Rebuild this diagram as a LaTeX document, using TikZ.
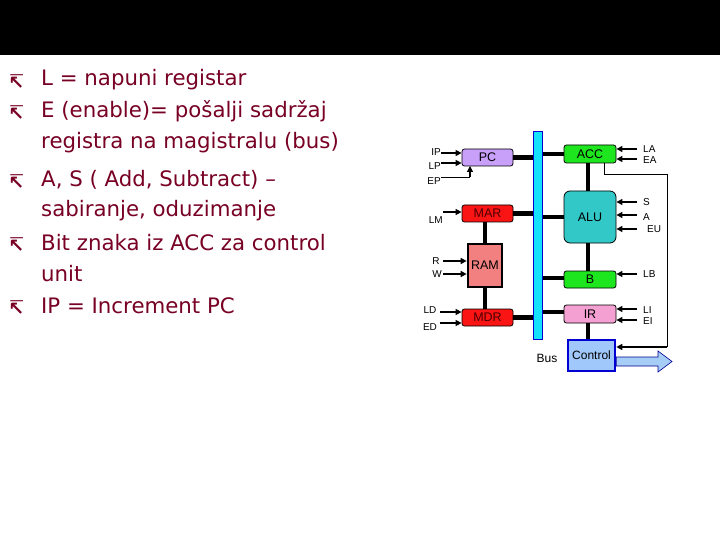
\documentclass[tikz,border=0pt]{standalone}
\usepackage{fontspec}
\setmainfont{DejaVu Sans}
\newfontfamily\arialf{Liberation Sans}
\usetikzlibrary{arrows.meta}
\definecolor{txtred}{RGB}{120,0,36}
\definecolor{pcc}{RGB}{200,160,250}
\definecolor{marc}{RGB}{250,20,20}
\definecolor{ramc}{RGB}{242,128,128}
\definecolor{accc}{RGB}{30,230,30}
\definecolor{aluc}{RGB}{50,200,200}
\definecolor{irc}{RGB}{245,160,210}
\definecolor{ctlc}{RGB}{160,200,250}
\definecolor{busc}{RGB}{20,225,250}
\definecolor{busb}{RGB}{0,0,210}
\definecolor{arrc}{RGB}{165,205,245}
\tikzset{
  reg/.style={draw=black, line width=0.8pt, rounded corners=2.5pt, font=\arialf\fontsize{12.5}{13}\selectfont},
  lab/.style={font=\arialf\fontsize{10}{11}\selectfont, inner sep=0pt},
  thick link/.style={line width=4.5pt},
  inarr/.style={line width=1.6pt, -{Triangle[length=6pt,width=6pt]}},
  bullet/.style={anchor=west, text=txtred, font=\fontsize{21.3}{24}\selectfont, inner sep=0pt},
  bsym/.style={anchor=west, text=txtred, font=\bfseries\fontsize{19}{24}\selectfont, inner sep=0pt}
}
\begin{document}
\begin{tikzpicture}[x=1pt,y=-1pt]
\useasboundingbox (0,0) rectangle (720,540);
\fill[white] (0,0) rectangle (720,540);
\fill[black] (0,0) rectangle (720,55);
% bullet text
\node[bsym] (b1s) at (8,82) {↸};
\node[bullet] (b1) at (41,80) {L = napuni registar};
\node[bsym] (b2s) at (8,113) {↸};
\node[bullet] (b2) at (41,111) {E (enable)= pošalji sadržaj};
\node[bullet] (b2b) at (41,143) {registra na magistralu (bus)};
\node[bsym] (b3s) at (8,182) {↸};
\node[bullet] (b3) at (41,180) {A, S ( Add, Subtract) –};
\node[bullet] (b3b) at (41,211) {sabiranje, oduzimanje};
\node[bsym] (b4s) at (8,245) {↸};
\node[bullet] (b4) at (41,243) {Bit znaka iz ACC za control};
\node[bullet] (b4b) at (41,274) {unit};
\node[bsym] (b5s) at (8,308) {↸};
\node[bullet] (b5) at (41,306) {IP = Increment PC};
% registers
\node[reg, fill=pcc, minimum width=51pt, minimum height=17pt] (pc) at (487.5,157.5) {PC};
\node[reg, fill=marc, text=black!70!red, minimum width=51pt, minimum height=17pt] (mar) at (487.5,213.5) {MAR};
\node[draw=black, line width=2.2pt, fill=ramc, minimum width=34pt, minimum height=43pt, font=\arialf\fontsize{12.5}{13}\selectfont] (ram) at (485,265.5) {RAM};
\node[reg, fill=marc, text=black!70!red, minimum width=51pt, minimum height=17pt] (mdr) at (487.5,317.5) {MDR};
\node[reg, fill=accc, minimum width=52pt, minimum height=18pt] (acc) at (590,154) {ACC};
\node[reg, fill=aluc, rounded corners=6pt, minimum width=52pt, minimum height=52pt] (alu) at (590,217) {ALU};
\node[reg, fill=accc, minimum width=52pt, minimum height=17pt] (b) at (590,279.5) {B};
\node[reg, fill=irc, minimum width=52pt, minimum height=18pt] (ir) at (590,314) {IR};
\node[draw=busb, line width=2.6pt, fill=ctlc, minimum width=47pt, minimum height=31pt, font=\arialf\fontsize{12}{13}\selectfont, inner sep=1pt] (ctl) at (591.5,355.5) {Control};
% bus
\node[draw=busb, line width=1.8pt, fill=busc, minimum width=9pt, minimum height=208pt, inner sep=0pt] (bus) at (538,235.5) {};
\node[lab, font=\arialf\fontsize{12}{13}\selectfont] (buslab) at (547,358) {Bus};
% thick links
\draw[thick link] (pc.east) -- (pc.east -| bus.west);
\draw[thick link] (acc.west) -- (acc.west -| bus.east);
\draw[thick link] (mar.east) -- (mar.east -| bus.west);
\draw[thick link] (mdr.east) -- (mdr.east -| bus.west);
\draw[thick link] (alu.west) -- (alu.west -| bus.east);
\draw[thick link] ([yshift=1.5pt]b.west) -- ([yshift=1.5pt]b.west -| bus.east);
\draw[thick link] ([yshift=2pt]ir.west) -- ([yshift=2pt]ir.west -| bus.east);
\draw[thick link] (mar.south -| ram.north) -- (ram.north);
\draw[thick link] (ram.south) -- (mdr.north -| ram.south);
\draw[thick link] (acc.south -| 588,0) -- (alu.north -| 588,0);
\draw[thick link] (alu.south -| 588,0) -- (b.north -| 588,0);
\draw[thick link] (ir.south -| 588,0) -- (ctl.north -| 588,0);
% left control inputs
\coordinate (ipS) at (441,153);
\coordinate (lpS) at (441,163);
\node[lab, anchor=east] (ip) at (441,152) {IP};
\node[lab, anchor=east] (lp) at (441,166) {LP};
\node[lab, anchor=east] (ep) at (441,181) {EP};
\draw[inarr] (ipS) -- (ipS -| pc.west);
\draw[inarr] (lpS) -- (lpS -| pc.west);
\draw[line width=0.8pt] (441,177) -- (470,177);
\draw[line width=1.2pt, -{Triangle[length=6pt,width=6pt]}] (470,177) -- (470,166);
\node[lab, anchor=east] (lm) at (443,220) {LM};
\draw[inarr] (443,212) -- (mar.west |- 0,212);
\node[lab] (r) at (436,261) {R};
\node[lab] (w) at (437,274) {W};
\draw[inarr] (443,261) -- (ram.west |- 0,261);
\draw[inarr] (443,274) -- (ram.west |- 0,274);
\node[lab] (ld) at (430,310) {LD};
\node[lab] (ed) at (430,327) {ED};
\draw[inarr] (440,312) -- (mdr.west |- 0,312);
\draw[inarr] (440,323) -- (mdr.west |- 0,323);
% right control inputs
\node[lab, anchor=west] (la) at (643,149) {LA};
\node[lab, anchor=west] (ea) at (643,160) {EA};
\draw[inarr] (637,149) -- (acc.east |- 0,149);
\draw[inarr] (637,159) -- (acc.east |- 0,159);
\node[lab, anchor=west] (s) at (643,202) {S};
\node[lab, anchor=west] (a) at (643,217) {A};
\node[lab, anchor=west] (eu) at (647,229) {EU};
\draw[inarr] (637,202) -- (alu.east |- 0,202);
\draw[inarr] (637,215) -- (alu.east |- 0,215);
\draw[inarr] (637,229) -- (alu.east |- 0,229);
\node[lab, anchor=west] (lb) at (643,274) {LB};
\draw[inarr] (637,274) -- (b.east |- 0,274);
\node[lab, anchor=west] (li) at (643,310) {LI};
\node[lab, anchor=west] (ei) at (643,321) {EI};
\draw[inarr] (637,309) -- (ir.east |- 0,309);
\draw[inarr] (637,320) -- (ir.east |- 0,320);
% sign bit to control
\draw[line width=0.8pt] (604,163) -- (604,174) -- (667,174) -- (667,347);
\draw[line width=1.6pt, -{Triangle[length=6pt,width=6pt]}] (667,347) -- (ctl.east |- 0,347);
% big output arrow
\draw[draw=busb!70!black, line width=0.6pt, fill=arrc] (ctl.east |- 0,357) -- (658,357) -- (658,351) -- (672,361.5) -- (658,372) -- (658,366) -- (ctl.east |- 0,366) -- cycle;
\end{tikzpicture}
\end{document}
